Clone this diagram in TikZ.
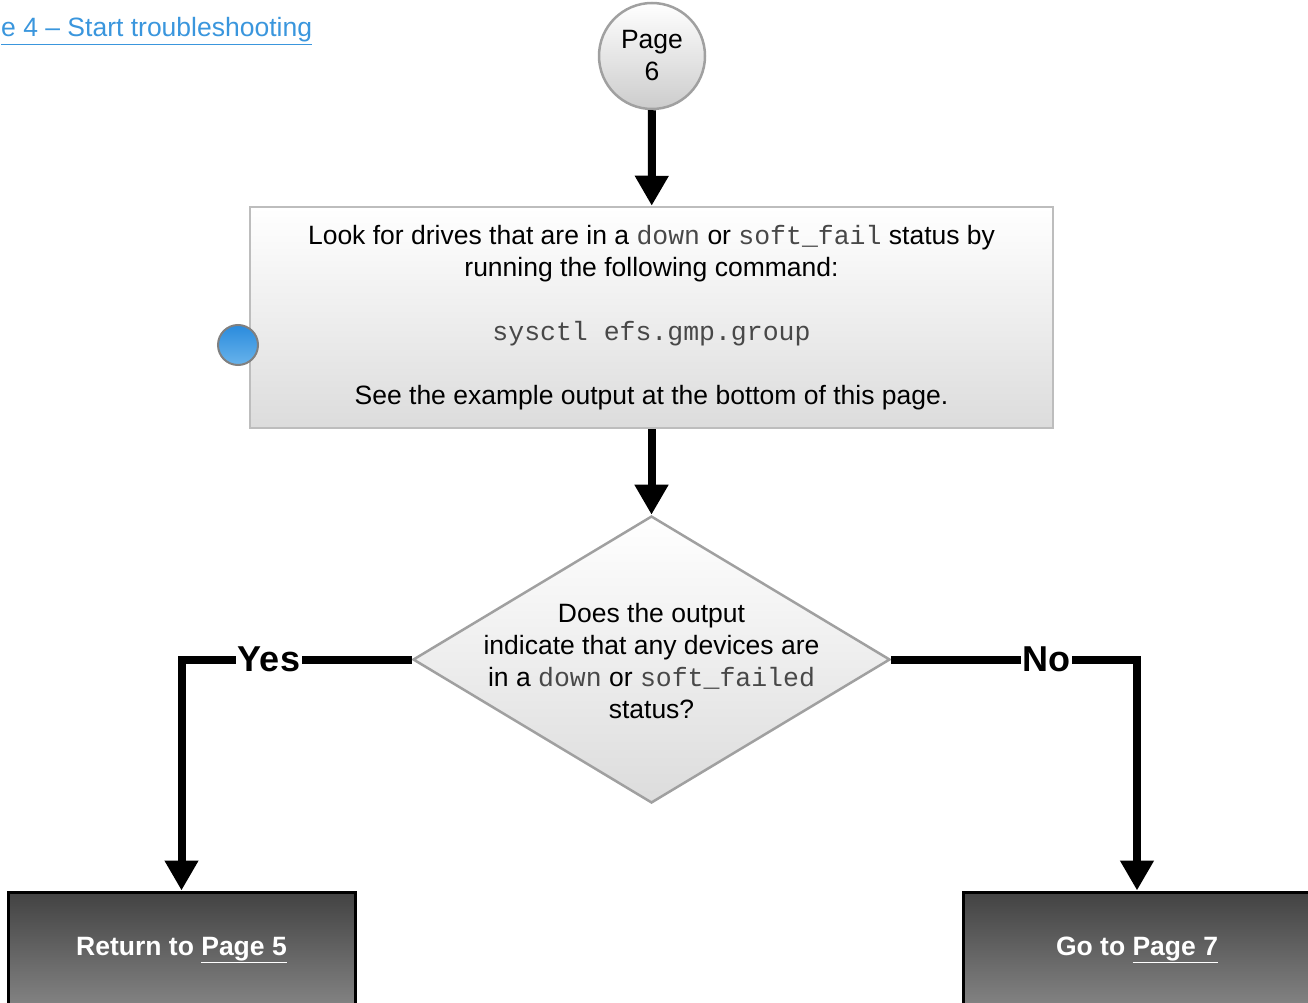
\documentclass[tikz,border=0pt]{standalone}
\usepackage{fontspec}
\setmainfont{Liberation Sans}
\setmonofont{Liberation Mono}
\usepackage{xcolor}
\usepackage{tikz}
\usetikzlibrary{shapes.geometric, arrows.meta, positioning}

\definecolor{linkblue}{HTML}{3A96DD}
\definecolor{boxline}{HTML}{BDBDBD}
\definecolor{shapeline}{HTML}{A0A0A0}
\definecolor{lightshade}{HTML}{DCDCDC}
\definecolor{darktop}{HTML}{424242}
\definecolor{darkbottom}{HTML}{848484}
\definecolor{dottop}{HTML}{2A8BDD}
\definecolor{dotbottom}{HTML}{68B3EB}
\definecolor{codegray}{HTML}{484848}

\newcommand{\code}[1]{{\ttfamily\color{codegray}#1}}

\begin{document}
\begin{tikzpicture}[
    x=1pt, y=-1pt,
    font=\fontsize{26.5}{32}\selectfont,
    >={Triangle[length=30pt, width=32pt]},
    % Node styles
    pageref/.style={circle, draw=shapeline, line width=2.5pt, minimum size=106pt, inner sep=0pt, top color=white, bottom color=gray!40, align=center},
    process/.style={rectangle, draw=boxline, line width=2.5pt, minimum width=803pt, minimum height=221pt, top color=white, bottom color=lightshade, align=center},
    decision/.style={diamond, draw=shapeline, line width=2.5pt, minimum width=477pt, minimum height=287pt, inner sep=0pt, top color=white, bottom color=lightshade},
    terminal/.style={rectangle, draw=black, line width=3pt, minimum width=347pt, minimum height=116pt, top color=darktop, bottom color=darkbottom, text=white, font=\fontsize{26.5}{32}\selectfont\bfseries},
    marker/.style={circle, draw=gray, line width=2pt, minimum size=40pt, inner sep=0pt, top color=dottop, bottom color=dotbottom},
    % Edge styles
    arrow/.style={->, line width=8pt, draw=black},
    branch/.style={fill=white, inner sep=1.5pt, font=\fontsize{36}{40}\selectfont\bfseries}
]
\useasboundingbox (0,0) rectangle (1308,1003);

% -----------------------------------------------------------
% Back link and entry point
% -----------------------------------------------------------
\node[anchor=base west, inner sep=1pt, text=linkblue] (backlink) at (0,37) {\underline{e 4 -- Start troubleshooting}};
\node[pageref] (page6) at (652,56) {Page\\6};

% -----------------------------------------------------------
% Check step
% -----------------------------------------------------------
\node[process] (lookup) at (651.5,317.5) {Look for drives that are in a \code{down} or \code{soft\_fail} status by\\
    running the following command:\\[32pt]
    \code{sysctl efs.gmp.group}\\[32pt]
    See the example output at the bottom of this page.};
\node[marker] (dot) at (238,345) {};

% -----------------------------------------------------------
% Decision
% -----------------------------------------------------------
\node[decision] (status) at (651.5,659.5) {};
\node[align=center] (question) at ([yshift=-2pt]status.center) {Does the output\\
    indicate that any devices are\\
    in a \code{down} or \code{soft\_failed}\\
    status?};

% -----------------------------------------------------------
% Outcomes
% -----------------------------------------------------------
\node[terminal] (page5) at (181.5,950) {Return to \underline{Page 5}};
\node[terminal] (page7) at (1137,950) {Go to \underline{Page 7}};

% -----------------------------------------------------------
% Connectors
% -----------------------------------------------------------
\draw[arrow] (page6) -- (lookup);
\draw[arrow] (lookup) -- (status);
\draw[arrow] (status.west) -| node[branch, pos=0.31] {Yes} (page5.north);
\draw[arrow] (status.east) -| node[branch, pos=0.316] {No} (page7.north);

\end{tikzpicture}
\end{document}
